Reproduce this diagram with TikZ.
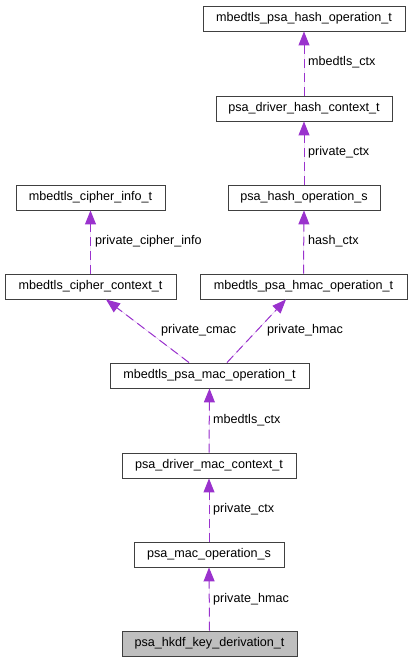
\documentclass[tikz,border=0pt]{standalone}
\usepackage{fontspec}
\setmainfont{Liberation Sans}
\usetikzlibrary{arrows.meta}
\definecolor{edgecol}{HTML}{9A32CD}
\tikzset{
  box/.style={draw=black!75, line width=0.9pt, fill=white, inner sep=0pt, minimum height=25pt, font=\fontsize{12.6}{15}\selectfont, text=black},
  edge/.style={draw=edgecol, line width=1pt, dash pattern=on 9pt off 5pt, -{Triangle[length=14pt,width=11pt]}, fill=edgecol},
  lbl/.style={anchor=west, inner sep=0pt, font=\fontsize{12.6}{15}\selectfont, text=black}
}
\begin{document}
\begin{tikzpicture}[x=1pt,y=-1pt]
\useasboundingbox (0,0) rectangle (413,663);
\node[box, minimum width=202pt] (hashop) at (304,18.5) {mbedtls\_psa\_hash\_operation\_t};
\node[box, minimum width=176pt] (drvhash) at (304,108.5) {psa\_driver\_hash\_context\_t};
\node[box, minimum width=149pt] (cinfo) at (90.5,197.5) {mbedtls\_cipher\_info\_t};
\node[box, minimum width=152pt] (hashops) at (304,197.5) {psa\_hash\_operation\_s};
\node[box, minimum width=171pt] (cctx) at (90.5,286.5) {mbedtls\_cipher\_context\_t};
\node[box, minimum width=207pt] (hmac) at (303.5,286.5) {mbedtls\_psa\_hmac\_operation\_t};
\node[box, minimum width=199pt] (macop) at (209.5,375.5) {mbedtls\_psa\_mac\_operation\_t};
\node[box, minimum width=174pt] (drvmac) at (209,465.5) {psa\_driver\_mac\_context\_t};
\node[box, minimum width=150pt] (macops) at (209,554.5) {psa\_mac\_operation\_s};
\node[box, minimum width=175pt, fill=black!25] (hkdf) at (209.5,643.5) {psa\_hkdf\_key\_derivation\_t};

\draw[edge] (drvhash.north) -- (hashop.south);
\draw[edge] (hashops.north) -- (drvhash.south);
\draw[edge] (hmac.north) -- (hashops.south);
\draw[edge] (cctx.north) -- (cinfo.south);
\draw[edge] ([xshift=-20.5pt]macop.north) -- ([xshift=15.5pt]cctx.south);
\draw[edge] ([xshift=17.5pt]macop.north) -- ([xshift=-17.5pt]hmac.south);
\draw[edge] (drvmac.north) -- (macop.south);
\draw[edge] (macops.north) -- (drvmac.south);
\draw[edge] (hkdf.north) -- (macops.south);

\node[lbl] (l1) at (308,62) {mbedtls\_ctx};
\node[lbl] (l2) at (308,152) {private\_ctx};
\node[lbl] (l3) at (95,241) {private\_cipher\_info};
\node[lbl] (l4) at (308,241) {hash\_ctx};
\node[lbl] (l5) at (161,330) {private\_cmac};
\node[lbl] (l6) at (267,330) {private\_hmac};
\node[lbl] (l7) at (213,420) {mbedtls\_ctx};
\node[lbl] (l8) at (213,509) {private\_ctx};
\node[lbl] (l9) at (213,599) {private\_hmac};
\end{tikzpicture}
\end{document}
